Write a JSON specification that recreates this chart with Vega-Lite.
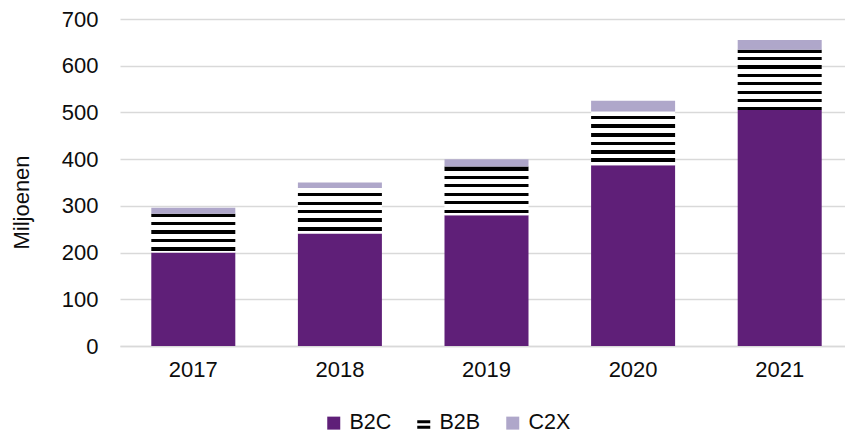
{
  "$schema": "https://vega.github.io/schema/vega-lite/v6.json",
  "width": 733,
  "height": 327,
  "autosize": {"type": "none"},
  "padding": {"left": 120, "top": 19, "right": 0, "bottom": 90},
  "background": "#ffffff",
  "config": {
    "view": {"stroke": null},
    "font": "Liberation Sans",
    "axis": {"labelFont": "Liberation Sans", "titleFont": "Liberation Sans", "labelColor": "#0d0d0d", "titleColor": "#0d0d0d"},
    "legend": {"labelFont": "Liberation Sans"}
  },
  "data": {
    "values": [
      {"year": "2017", "type": "B2C", "value": 200},
      {"year": "2017", "type": "B2B", "value": 83},
      {"year": "2017", "type": "C2X", "value": 13},
      {"year": "2018", "type": "B2C", "value": 241},
      {"year": "2018", "type": "B2B", "value": 97},
      {"year": "2018", "type": "C2X", "value": 12},
      {"year": "2019", "type": "B2C", "value": 280},
      {"year": "2019", "type": "B2B", "value": 104},
      {"year": "2019", "type": "C2X", "value": 16},
      {"year": "2020", "type": "B2C", "value": 387},
      {"year": "2020", "type": "B2B", "value": 115},
      {"year": "2020", "type": "C2X", "value": 23},
      {"year": "2021", "type": "B2C", "value": 505},
      {"year": "2021", "type": "B2B", "value": 129},
      {"year": "2021", "type": "C2X", "value": 21}
    ]
  },
  "transform": [{"calculate": "indexof(['B2C','B2B','C2X'], datum.type)", "as": "stackOrder"}],
  "mark": {"type": "bar", "strokeWidth": 0},
  "encoding": {
    "x": {
      "field": "year", "type": "ordinal",
      "scale": {"paddingInner": 0.427, "paddingOuter": 0.2135},
      "axis": {"title": null, "labelAngle": 0, "labelFontSize": 22, "labelPadding": 13, "ticks": false, "domainColor": "#d9d9d9", "domainWidth": 1.5, "grid": false}
    },
    "y": {
      "field": "value", "type": "quantitative", "stack": "zero",
      "scale": {"domain": [0, 700], "nice": false},
      "axis": {
        "title": "Miljoenen", "titleFontSize": 22, "titleFontWeight": "normal",
        "titleX": -99, "titleY": 183, "titleAngle": -90, "titleAlign": "center", "titleBaseline": "middle",
        "values": [0, 100, 200, 300, 400, 500, 600, 700],
        "labelFontSize": 22, "labelPadding": 22, "ticks": false, "tickSize": 0, "domain": false,
        "gridColor": "#d9d9d9", "gridWidth": 1.5
      }
    },
    "order": {"field": "stackOrder", "type": "quantitative", "sort": "ascending"},
    "color": {
      "field": "type", "type": "nominal",
      "sort": ["B2C", "B2B", "C2X"],
      "scale": {"domain": ["B2C", "B2B", "C2X"], "range": ["#5f1f78", "#000000", "#afa7ca"]},
      "legend": {
        "title": null, "orient": "none", "direction": "horizontal",
        "legendX": 203, "legendY": 393, "padding": 0,
        "symbolType": "square", "symbolSize": 169, "symbolStrokeWidth": 0,
        "labelFontSize": 21.5, "labelColor": "#0d0d0d", "labelOffset": 5, "columnPadding": 21,
        "encode": {
          "symbols": {
            "update": {
              "shape": {"signal": "datum.value === 'B2B' ? 'M-1,-0.45H1V0H-1Z M-1,0.4H1V0.85H-1Z' : 'square'"}
            }
          }
        }
      },
      "condition": [
        {"test": "datum.type === 'B2B' && datum.year === '2017'", "value": {"gradient": "linear", "x1": 0, "y1": 0, "x2": 0, "y2": 1, "stops": [
          {"offset": 0, "color": "#000000"}, {"offset": 0.08, "color": "#000000"}, {"offset": 0.08, "color": "#ffffff"},
          {"offset": 0.21, "color": "#ffffff"}, {"offset": 0.21, "color": "#000000"}, {"offset": 0.3, "color": "#000000"}, {"offset": 0.3, "color": "#ffffff"},
          {"offset": 0.43, "color": "#ffffff"}, {"offset": 0.43, "color": "#000000"}, {"offset": 0.52, "color": "#000000"}, {"offset": 0.52, "color": "#ffffff"},
          {"offset": 0.645, "color": "#ffffff"}, {"offset": 0.645, "color": "#000000"}, {"offset": 0.735, "color": "#000000"}, {"offset": 0.735, "color": "#ffffff"},
          {"offset": 0.865, "color": "#ffffff"}, {"offset": 0.865, "color": "#000000"}, {"offset": 0.955, "color": "#000000"}, {"offset": 0.955, "color": "#ffffff"},
          {"offset": 1, "color": "#ffffff"}]}},
        {"test": "datum.type === 'B2B' && datum.year === '2018'", "value": {"gradient": "linear", "x1": 0, "y1": 0, "x2": 0, "y2": 1, "stops": [
          {"offset": 0, "color": "#ffffff"}, {"offset": 0.102, "color": "#ffffff"}, {"offset": 0.102, "color": "#000000"}, {"offset": 0.175, "color": "#000000"}, {"offset": 0.175, "color": "#ffffff"},
          {"offset": 0.3, "color": "#ffffff"}, {"offset": 0.3, "color": "#000000"}, {"offset": 0.373, "color": "#000000"}, {"offset": 0.373, "color": "#ffffff"},
          {"offset": 0.483, "color": "#ffffff"}, {"offset": 0.483, "color": "#000000"}, {"offset": 0.556, "color": "#000000"}, {"offset": 0.556, "color": "#ffffff"},
          {"offset": 0.667, "color": "#ffffff"}, {"offset": 0.667, "color": "#000000"}, {"offset": 0.74, "color": "#000000"}, {"offset": 0.74, "color": "#ffffff"},
          {"offset": 0.865, "color": "#ffffff"}, {"offset": 0.865, "color": "#000000"}, {"offset": 0.938, "color": "#000000"}, {"offset": 0.938, "color": "#ffffff"},
          {"offset": 1, "color": "#ffffff"}]}},
        {"test": "datum.type === 'B2B' && datum.year === '2019'", "value": {"gradient": "linear", "x1": 0, "y1": 0, "x2": 0, "y2": 1, "stops": [
          {"offset": 0, "color": "#000000"}, {"offset": 0.083, "color": "#000000"}, {"offset": 0.083, "color": "#ffffff"},
          {"offset": 0.193, "color": "#ffffff"}, {"offset": 0.193, "color": "#000000"}, {"offset": 0.261, "color": "#000000"}, {"offset": 0.261, "color": "#ffffff"},
          {"offset": 0.358, "color": "#ffffff"}, {"offset": 0.358, "color": "#000000"}, {"offset": 0.427, "color": "#000000"}, {"offset": 0.427, "color": "#ffffff"},
          {"offset": 0.538, "color": "#ffffff"}, {"offset": 0.538, "color": "#000000"}, {"offset": 0.607, "color": "#000000"}, {"offset": 0.607, "color": "#ffffff"},
          {"offset": 0.71, "color": "#ffffff"}, {"offset": 0.71, "color": "#000000"}, {"offset": 0.778, "color": "#000000"}, {"offset": 0.778, "color": "#ffffff"},
          {"offset": 0.896, "color": "#ffffff"}, {"offset": 0.896, "color": "#000000"}, {"offset": 0.965, "color": "#000000"}, {"offset": 0.965, "color": "#ffffff"},
          {"offset": 1, "color": "#ffffff"}]}},
        {"test": "datum.type === 'B2B' && datum.year === '2020'", "value": {"gradient": "linear", "x1": 0, "y1": 0, "x2": 0, "y2": 1, "stops": [
          {"offset": 0, "color": "#ffffff"}, {"offset": 0.081, "color": "#ffffff"}, {"offset": 0.081, "color": "#000000"}, {"offset": 0.143, "color": "#000000"}, {"offset": 0.143, "color": "#ffffff"},
          {"offset": 0.236, "color": "#ffffff"}, {"offset": 0.236, "color": "#000000"}, {"offset": 0.3, "color": "#000000"}, {"offset": 0.3, "color": "#ffffff"},
          {"offset": 0.394, "color": "#ffffff"}, {"offset": 0.394, "color": "#000000"}, {"offset": 0.469, "color": "#000000"}, {"offset": 0.469, "color": "#ffffff"},
          {"offset": 0.563, "color": "#ffffff"}, {"offset": 0.563, "color": "#000000"}, {"offset": 0.625, "color": "#000000"}, {"offset": 0.625, "color": "#ffffff"},
          {"offset": 0.719, "color": "#ffffff"}, {"offset": 0.719, "color": "#000000"}, {"offset": 0.794, "color": "#000000"}, {"offset": 0.794, "color": "#ffffff"},
          {"offset": 0.874, "color": "#ffffff"}, {"offset": 0.874, "color": "#000000"}, {"offset": 0.949, "color": "#000000"}, {"offset": 0.949, "color": "#ffffff"},
          {"offset": 1, "color": "#ffffff"}]}},
        {"test": "datum.type === 'B2B' && datum.year === '2021'", "value": {"gradient": "linear", "x1": 0, "y1": 0, "x2": 0, "y2": 1, "stops": [
          {"offset": 0, "color": "#000000"}, {"offset": 0.045, "color": "#000000"}, {"offset": 0.045, "color": "#ffffff"},
          {"offset": 0.122, "color": "#ffffff"}, {"offset": 0.122, "color": "#000000"}, {"offset": 0.175, "color": "#000000"}, {"offset": 0.175, "color": "#ffffff"},
          {"offset": 0.255, "color": "#ffffff"}, {"offset": 0.255, "color": "#000000"}, {"offset": 0.31, "color": "#000000"}, {"offset": 0.31, "color": "#ffffff"},
          {"offset": 0.4, "color": "#ffffff"}, {"offset": 0.4, "color": "#000000"}, {"offset": 0.455, "color": "#000000"}, {"offset": 0.455, "color": "#ffffff"},
          {"offset": 0.533, "color": "#ffffff"}, {"offset": 0.533, "color": "#000000"}, {"offset": 0.588, "color": "#000000"}, {"offset": 0.588, "color": "#ffffff"},
          {"offset": 0.678, "color": "#ffffff"}, {"offset": 0.678, "color": "#000000"}, {"offset": 0.733, "color": "#000000"}, {"offset": 0.733, "color": "#ffffff"},
          {"offset": 0.817, "color": "#ffffff"}, {"offset": 0.817, "color": "#000000"}, {"offset": 0.872, "color": "#000000"}, {"offset": 0.872, "color": "#ffffff"},
          {"offset": 0.947, "color": "#ffffff"}, {"offset": 0.947, "color": "#000000"}, {"offset": 1, "color": "#000000"}]}}
      ]
    }
  }
}
